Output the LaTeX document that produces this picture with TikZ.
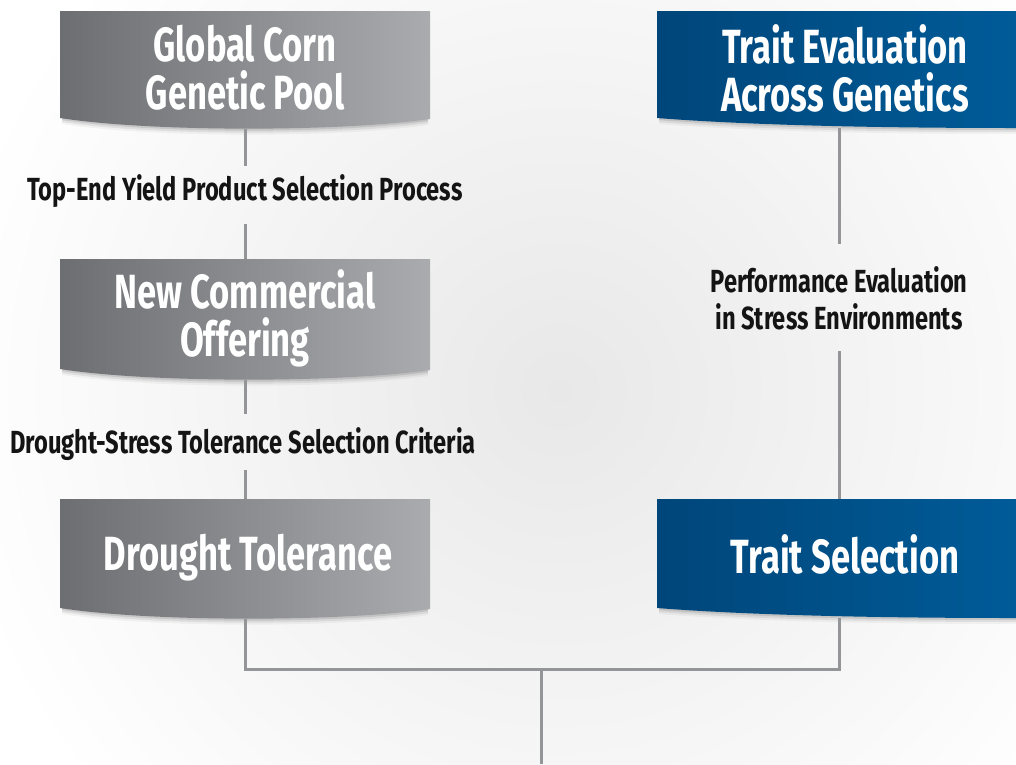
\documentclass[tikz,border=0pt]{standalone}
\usepackage{fontspec}
\newfontfamily\dinfont{Fira Sans}[FakeStretch=0.72]
\newfontfamily\labfont{Fira Sans}[FakeStretch=0.74]
\definecolor{gL}{HTML}{6D6E71}
\definecolor{gR}{HTML}{A9ABAE}
\definecolor{bL}{HTML}{00467A}
\definecolor{bR}{HTML}{005B98}
\definecolor{ln}{HTML}{939598}
\definecolor{ink}{HTML}{141414}
\newcommand\leftbox[4]{% y1, y2, left colour, right colour
  \foreach \s/\o in {2/0.10,4/0.07,6/0.04}{
    \fill[black,opacity=\o] (62,#1+\s) -- (428,#1+\s) -- (428,#2+1+\s) .. controls (340,#2+14+\s) and (150,#2+14+\s) .. (62,#2+\s) -- cycle;}
  \shade[left color=#3, right color=#4] (60,#1) -- (430,#1) -- (430,#2+1) .. controls (340,#2+14) and (150,#2+14) .. (60,#2) -- cycle;}
\newcommand\rightbox[4]{%
  \foreach \s/\o in {2/0.10,4/0.07,6/0.04}{
    \fill[black,opacity=\o] (659,#1+\s) -- (1016,#1+\s) -- (1016,#2+10+\s) .. controls (900,#2+10+\s) and (760,#2+8+\s) .. (659,#2+\s) -- cycle;}
  \shade[left color=#3, right color=#4] (657,#1) -- (1016,#1) -- (1016,#2+10) .. controls (900,#2+10) and (760,#2+8) .. (657,#2) -- cycle;}
\begin{document}
\begin{tikzpicture}[x=1pt,y=-1pt,
  title/.style={text=white, font=\dinfont\bfseries\fontsize{48}{48}\selectfont, align=center, inner sep=0pt},
  lab/.style={text=ink, font=\labfont\bfseries\fontsize{32}{37}\selectfont, align=center, inner sep=0pt},
  conn/.style={draw=ln, line width=3pt}]
\useasboundingbox (0,0) rectangle (1016,764);
\fill[white] (0,0) rectangle (1016,764);
\shade[inner color=black!9, outer color=white] (560,390) circle (620);
% boxes
\leftbox{11}{118}{gL}{gR}
\leftbox{259}{369}{gL}{gR}
\leftbox{499}{608}{gL}{gR}
\rightbox{11}{118}{bL}{bR}
\rightbox{499}{608}{bL}{bR}
% titles
\node[title] (gp) at (245,68) {Global Corn\\Genetic Pool};
\node[title] (nc) at (245,318) {New Commercial\\Offering};
\node[title] (dt) at (248,558) {Drought Tolerance};
\node[title] (te) at (845,68) {Trait Evaluation\\Across Genetics};
\node[title] (ts) at (845,554) {Trait Selection};
% labels
\node[lab] (l1) at (245,191) {Top-End Yield Product Selection Process};
\node[lab] (l2) at (243,444) {Drought-Stress Tolerance Selection Criteria};
\node[lab] (l3) at (839,298) {Performance Evaluation\\in Stress Environments};
% connector ends
\coordinate (gpb) at (245,129);
\coordinate (l1a) at (245,166);
\coordinate (l1b) at (245,224);
\coordinate (nct) at (245,259);
\coordinate (ncb) at (245,380);
\coordinate (l2a) at (245,414);
\coordinate (l2b) at (245,470);
\coordinate (dtt) at (245,499);
\coordinate (dtb) at (245,619);
\coordinate (teb) at (839,128);
\coordinate (l3a) at (839,244);
\coordinate (l3b) at (839,351);
\coordinate (tst) at (839,499);
\coordinate (tsb) at (839,618);
\coordinate (j) at (541,669);
\coordinate (out) at (541,764);
\draw[conn] (gpb) -- (l1a);
\draw[conn] (l1b) -- (nct);
\draw[conn] (ncb) -- (l2a);
\draw[conn] (l2b) -- (dtt);
\draw[conn] (teb) -- (l3a);
\draw[conn] (l3b) -- (tst);
\draw[conn] (dtb) |- (j) -| (tsb);
\draw[conn] (j) -- (out);
\end{tikzpicture}
\end{document}
